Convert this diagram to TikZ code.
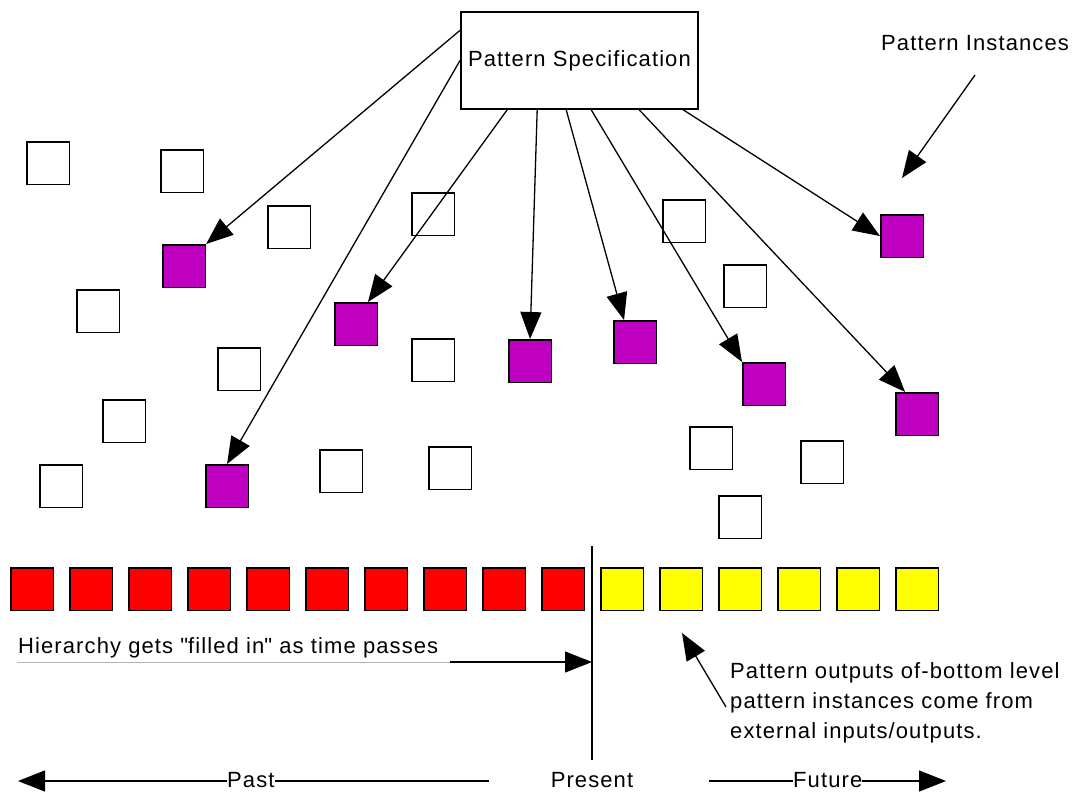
\documentclass[tikz,border=0pt]{standalone}
\usepackage{fontspec}
\setmainfont{Liberation Sans}[LetterSpace=5,Ligatures=NoCommon]
\usetikzlibrary{arrows.meta,calc}

% straight double quote, set as a glyph so no TeX mapping curls it
\newcommand\straightdq{\XeTeXglyph\XeTeXcharglyph"22\relax}

\definecolor{instfill}{RGB}{192,0,192}
\definecolor{pastfill}{RGB}{255,0,0}
\definecolor{futurefill}{RGB}{255,255,0}

\begin{document}
\begin{tikzpicture}[x=1pt,y=-1pt,
  cell/.style={draw,line width=1.6pt,minimum width=42.5pt,minimum height=42.5pt,
               inner sep=0pt,anchor=north west},
  idle/.style={cell,fill=white},
  inst/.style={cell,fill=instfill},
  done/.style={cell,fill=pastfill},
  todo/.style={cell,fill=futurefill},
  link/.style={line width=1.3pt,-{Triangle[length=27pt,width=21pt]}},
  plain/.style={line width=1.3pt},
  lbl/.style={inner sep=0pt,font=\fontsize{22}{30}\selectfont},
]
\useasboundingbox (0,0) rectangle (1074,793);

% specification box
\node[draw,line width=1.6pt,minimum width=237pt,minimum height=97pt,inner sep=0pt,
      font=\fontsize{22}{30}\selectfont] (spec) at (579.5,60.5) {Pattern Specification};

% idle pattern instances
\node[idle] (w1)  at (26,141)  {};
\node[idle] (w2)  at (160,149) {};
\node[idle] (w3)  at (267,205) {};
\node[idle] (w4)  at (76,289)  {};
\node[idle] (w5)  at (217,347) {};
\node[idle] (w6)  at (102,399) {};
\node[idle] (w7)  at (39,464)  {};
\node[idle] (w8)  at (411,192) {};
\node[idle] (w9)  at (411,338) {};
\node[idle] (w10) at (319,449) {};
\node[idle] (w11) at (428,446) {};
\node[idle] (w12) at (662,199) {};
\node[idle] (w13) at (723,264) {};
\node[idle] (w14) at (689,426) {};
\node[idle] (w15) at (800,440) {};
\node[idle] (w16) at (718,495) {};

% active pattern instances
\node[inst] (p1) at (162,244) {};
\node[inst] (p2) at (334,302) {};
\node[inst] (p3) at (508,339) {};
\node[inst] (p4) at (613,320) {};
\node[inst] (p5) at (742,362) {};
\node[inst] (p6) at (880,214) {};
\node[inst] (p7) at (895,392) {};
\node[inst] (p8) at (205,464) {};

% specification -> instances
\draw[link] ($(spec.north west)+(0,19)$) -- (p1.north east);
\draw[link] ($(spec.north west)+(0,49)$) -- (p8.north);
\draw[link] ($(spec.south west)+(47,0)$)  -- ($(p2.north west)!0.77!(p2.north east)$);
\draw[link] ($(spec.south west)+(77,0)$)  -- (p3.north);
\draw[link] ($(spec.south west)+(106,0)$) -- ($(p4.north west)!0.25!(p4.north east)$);
\draw[link] ($(spec.south west)+(131,0)$) -- (p5.north west);
\draw[link] ($(spec.south west)+(179,0)$) -- ($(p7.north west)!0.23!(p7.north east)$);
\draw[link] ($(spec.south west)+(223,0)$) -- (p6.west);

% label for the instances
\node[lbl,anchor=base west] (insts) at (881,50) {Pattern Instances};
\coordinate (instTail) at (975,75);
\coordinate (instTip)  at (902,178);
\draw[link] (instTail) -- (instTip);

% bottom-level outputs: past and future
\foreach \i in {0,...,9}
  \node[done] (r\i) at ({10+59*\i},567) {};
\foreach \i in {10,...,15}
  \node[todo] (r\i) at ({10+59*\i},567) {};

% present marker
\coordinate (nowTop) at (592,546);
\coordinate (nowBot) at (592,760);
\draw[plain] (nowTop) -- (nowBot);

% filling-in note
\node[lbl,anchor=base west] (hier) at (18,653)
  {Hierarchy gets \straightdq filled in\straightdq\ as time passes};
\coordinate (hierL) at (17,662);
\coordinate (hierM) at (450,662);
\coordinate (hierR) at (592,662);
\draw[gray!60,line width=0.8pt] (hierL) -- (hierM);
\draw[link] (hierM) -- (hierR);

% external inputs note
\node[lbl,anchor=north west,align=left] (ext) at (730,662)
  {Pattern outputs of-bottom level\\pattern instances come from\\external inputs/outputs.};
\coordinate (extTail) at (726,707);
\coordinate (extTip)  at (682,633);
\draw[link] (extTail) -- (extTip);

% time axis
\node[lbl,anchor=base west] (past)   at (227,787) {Past};
\node[lbl,anchor=base]      (now)    at (592,787) {Present};
\node[lbl,anchor=base west] (future) at (793,787) {Future};
\coordinate (pastTip)   at (18,781);
\coordinate (pastEnd)   at (489,781);
\coordinate (futStart)  at (709,781);
\coordinate (futTip)    at (946,781);
\draw[plain] (pastEnd) -- (pastEnd -| past.east);
\draw[link] (pastTip -| past.west) -- (pastTip);
\draw[plain] (futStart) -- (futStart -| future.west);
\draw[link] (futTip -| future.east) -- (futTip);
\end{tikzpicture}
\end{document}
